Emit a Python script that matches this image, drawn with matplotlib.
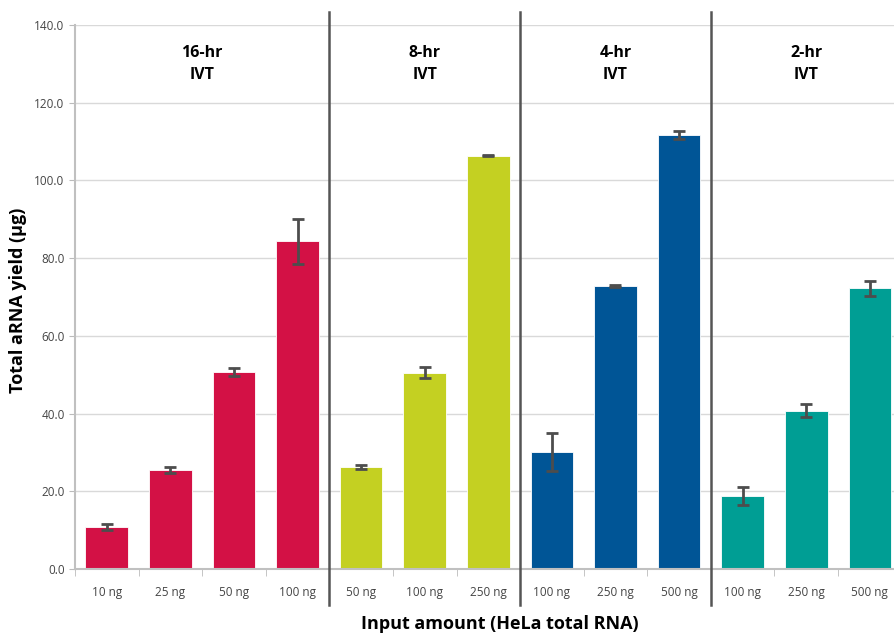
import numpy as np
import matplotlib.pyplot as plt

plt.rcParams['font.family'] = ['Open Sans', 'DejaVu Sans']

groups = ["16-hr\nIVT", "8-hr\nIVT", "4-hr\nIVT", "2-hr\nIVT"]
group_colors = ["#D31145", "#C4D022", "#005596", "#009E94"]
inputs = [
    ["10 ng", "25 ng", "50 ng", "100 ng"],
    ["50 ng", "100 ng", "250 ng"],
    ["100 ng", "250 ng", "500 ng"],
    ["100 ng", "250 ng", "500 ng"],
]
yields = [
    [10.8, 25.5, 50.7, 84.3],
    [26.2, 50.5, 106.4],
    [30.1, 72.9, 111.7],
    [18.7, 40.7, 72.2],
]
errors = [
    [0.8, 0.8, 1.0, 5.9],
    [0.5, 1.4, 0.2],
    [4.8, 0.3, 1.0],
    [2.3, 1.7, 2.0],
]

fig = plt.figure(figsize=(8.94, 6.36), dpi=100)
ax = fig.add_axes([75 / 894, 1 - 569 / 636, 1 - 75 / 894, 544 / 636])

labels = []
pos = 0
for g, title in enumerate(groups):
    n = len(yields[g])
    x = np.arange(pos, pos + n)
    ax.bar(x, yields[g], width=0.67, color=group_colors[g], zorder=2,
           edgecolor="white", linewidth=0.6)
    ax.errorbar(x, yields[g], yerr=errors[g], fmt="none", ecolor="#4d4d4d",
                elinewidth=2, capsize=4, capthick=2, zorder=3)
    ax.text(pos + (n - 1) / 2, 130, title, ha="center", va="center",
            fontsize=11.5, fontweight="bold", linespacing=1.5)
    if g > 0:
        ax.plot([pos - 0.5, pos - 0.5], [1.024, -0.066], color="#555555",
                lw=1.8, transform=ax.get_xaxis_transform(), clip_on=False, zorder=4)
    labels += inputs[g]
    pos += n

ax.set_yticks(np.arange(0, 141, 20))
ax.set_yticklabels([f"{v:.1f}" for v in np.arange(0, 141, 20)])
ax.set_xticks(np.arange(len(labels)))
ax.set_xticklabels(labels)
ax.set_xticks(np.arange(-0.5, len(labels), 1), minor=True)
ax.set_xlim(-0.5, 12.38)
ax.set_ylim(0, 140)
ax.tick_params(axis="x", which="major", length=0, pad=12, labelsize=8.5, labelcolor="#444444")
ax.tick_params(axis="x", which="minor", length=5, color="#bbbbbb", direction="out")
ax.tick_params(axis="y", length=4, color="#bbbbbb", labelsize=8.5, labelcolor="#444444")

ax.grid(axis="y", color="#d9d9d9", lw=1, zorder=0)
ax.set_axisbelow(True)
for s in ["top", "right"]:
    ax.spines[s].set_visible(False)
for s in ["left", "bottom"]:
    ax.spines[s].set_color("#c0c0c0")
    ax.spines[s].set_linewidth(1.5)

fig.text(18 / 894, 1 - 300 / 636, "Total aRNA yield (µg)", rotation=90,
         ha="center", va="center", fontsize=13, fontweight="bold")
fig.text(500 / 894, 1 - 624 / 636, "Input amount (HeLa total RNA)",
         ha="center", va="center", fontsize=13, fontweight="bold")

fig.savefig("out.png", dpi=100)
